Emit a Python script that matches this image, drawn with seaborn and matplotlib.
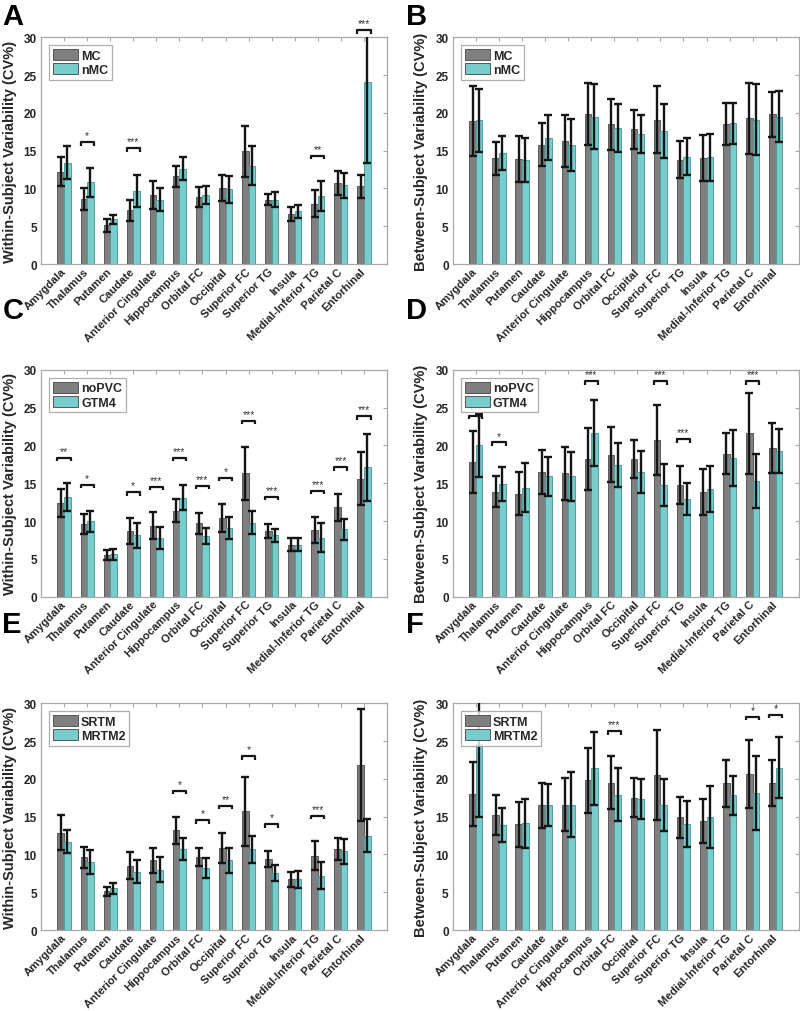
import numpy as np
import pandas as pd
import seaborn as sns
import matplotlib.pyplot as plt

sns.set_theme(style="white")
plt.rcParams['font.family'] = ['Liberation Sans', 'DejaVu Sans']

regions = ["Amygdala", "Thalamus", "Putamen", "Caudate", "Anterior Cingulate",
           "Hippocampus", "Orbital FC", "Occipital", "Superior FC", "Superior TG",
           "Insula", "Medial-Inferior TG", "Parietal C", "Entorhinal"]
nan = np.nan

# Panel A: within-subject, MC vs nMC
a_names = ["MC", "nMC"]
a_m1 = [12.2, 8.6, 5.1, 7.1, 9.1, 11.6, 8.9, 10.1, 14.9, 8.5, 6.6, 8.0, 10.7, 10.3]
a_e1 = [1.9, 1.4, 0.8, 1.4, 1.85, 1.4, 1.35, 1.7, 3.35, 0.7, 0.95, 1.75, 1.6, 1.5]
a_m2 = [13.4, 10.8, 5.9, 9.7, 8.5, 12.6, 9.1, 9.9, 13.0, 8.5, 7.0, 9.0, 10.4, 24.1]
a_e2 = [2.15, 1.9, 0.65, 2.1, 1.5, 1.5, 1.2, 1.8, 2.6, 1.0, 0.85, 2.0, 1.7, 10.8]
a_sig = ["", "*", "", "***", "", "", "", "", "", "", "", "**", "", "***"]
a_sig_y = [nan, 16.1, nan, 15.3, nan, nan, nan, nan, nan, nan, nan, 14.3, nan, 30.9]

# Panel B: between-subject, MC vs nMC
b_names = ["MC", "nMC"]
b_m1 = [18.9, 14.0, 13.9, 15.8, 16.3, 19.8, 18.5, 17.8, 19.1, 13.8, 14.0, 18.5, 19.3, 19.8]
b_e1 = [4.6, 2.2, 3.0, 2.85, 3.4, 4.1, 3.35, 2.6, 4.45, 2.45, 3.05, 2.75, 4.7, 3.0]
b_m2 = [19.0, 14.7, 13.8, 16.7, 15.7, 19.5, 18.0, 17.2, 17.6, 14.2, 14.1, 18.6, 19.1, 19.5]
b_e2 = [4.2, 2.2, 2.9, 2.95, 3.45, 4.3, 3.2, 2.5, 3.55, 2.45, 3.1, 2.7, 4.7, 3.35]
b_sig = [""] * 14
b_sig_y = [nan] * 14

# Panel C: within-subject, noPVC vs GTM4
c_names = ["noPVC", "GTM4"]
c_m1 = [12.4, 9.6, 5.5, 8.7, 9.4, 11.4, 9.7, 10.4, 16.3, 8.7, 6.9, 8.85, 11.8, 15.6]
c_e1 = [1.8, 1.3, 0.7, 1.7, 1.8, 1.55, 1.4, 1.9, 3.5, 0.95, 0.8, 1.75, 1.75, 3.5]
c_m2 = [13.2, 10.0, 5.6, 8.1, 7.8, 13.1, 8.0, 9.1, 9.8, 8.1, 6.9, 7.8, 8.9, 17.1]
c_e2 = [1.8, 1.4, 0.7, 1.6, 1.45, 1.65, 1.05, 1.5, 1.5, 0.8, 0.85, 1.9, 1.4, 4.4]
c_sig = ["**", "*", "", "*", "***", "***", "***", "*", "***", "***", "", "***", "***", "***"]
c_sig_y = [18.4, 14.8, nan, 13.8, 14.5, 18.4, 14.7, 15.7, 23.3, 13.2, nan, 14.0, 17.1, 23.85]

# Panel D: between-subject, noPVC vs GTM4
d_names = ["noPVC", "GTM4"]
d_m1 = [17.8, 13.9, 13.6, 16.5, 16.3, 18.2, 18.8, 18.2, 20.7, 14.8, 13.9, 18.9, 21.6, 19.7]
d_e1 = [4.1, 2.05, 2.85, 2.9, 3.5, 4.05, 3.65, 2.55, 4.65, 2.55, 3.05, 2.7, 5.35, 3.3]
d_m2 = [20.0, 14.9, 14.4, 15.9, 15.9, 21.7, 17.4, 16.5, 14.8, 12.9, 14.25, 18.4, 15.3, 19.3]
d_e2 = [4.2, 2.3, 3.25, 2.55, 3.2, 4.35, 2.9, 2.8, 2.8, 2.15, 3.05, 3.7, 3.6, 2.9]
d_sig = ["***", "*", "", "", "", "***", "", "", "***", "***", "", "", "***", ""]
d_sig_y = [23.9, 20.4, nan, nan, nan, 28.5, nan, nan, 28.5, 20.8, nan, nan, 28.5, nan]

# Panel E: within-subject, SRTM vs MRTM2
e_names = ["SRTM", "MRTM2"]
e_m1 = [12.9, 9.6, 5.1, 8.5, 9.2, 13.2, 9.7, 10.9, 15.7, 9.4, 6.7, 9.85, 10.7, 21.8]
e_e1 = [2.35, 1.35, 0.65, 1.8, 1.7, 1.8, 1.2, 2.0, 4.55, 1.1, 0.95, 1.9, 1.5, 7.4]
e_m2 = [11.7, 9.05, 5.5, 7.7, 8.0, 10.7, 8.2, 9.2, 10.7, 7.6, 6.7, 7.2, 10.4, 12.5]
e_e2 = [1.55, 1.6, 0.75, 1.5, 1.7, 1.5, 1.3, 1.7, 1.8, 1.05, 1.15, 1.75, 1.7, 2.15]
e_sig = ["", "", "", "", "", "*", "*", "**", "*", "*", "", "***", "", ""]
e_sig_y = [nan, nan, nan, nan, nan, 18.4, 14.5, 16.4, 23.0, 14.0, nan, 15.1, nan, nan]

# Panel F: between-subject, SRTM vs MRTM2
f_names = ["SRTM", "MRTM2"]
f_m1 = [18.0, 15.2, 14.0, 16.5, 16.6, 19.8, 19.5, 17.5, 20.5, 14.9, 14.4, 19.4, 20.6, 19.5]
f_e1 = [4.2, 2.65, 3.0, 3.0, 3.5, 4.3, 3.5, 2.6, 5.9, 2.7, 2.95, 3.15, 4.5, 3.05]
f_m2 = [24.6, 13.9, 14.1, 16.5, 16.6, 21.4, 17.9, 17.35, 16.5, 14.0, 14.9, 17.8, 18.1, 21.5]
f_e2 = [9.7, 2.3, 3.2, 2.8, 4.35, 4.8, 3.5, 2.65, 3.45, 3.05, 4.1, 2.6, 4.9, 4.05]
f_sig = ["", "", "", "", "", "", "***", "", "", "", "", "", "*", "*"]
f_sig_y = [nan, nan, nan, nan, nan, nan, 26.3, nan, nan, nan, nan, nan, 28.2, 28.5]

y_ticks = [0, 5, 10, 15, 20, 25, 30]
within_label = "Within-Subject Variability (CV%)"
between_label = "Between-Subject Variability (CV%)"

GRAY = "#7f7f7f"
TEAL = "#79cccc"
SPINE = "#a8a8a8"


def draw_panel(ax, names, m1, e1, m2, e2, sig, sig_y, ylabel):
    df = pd.DataFrame({
        "region": regions * 2,
        "method": [names[0]] * len(regions) + [names[1]] * len(regions),
        "value": list(m1) + list(m2),
    })
    sns.barplot(data=df, x="region", y="value", hue="method", hue_order=names,
                order=regions, palette=[GRAY, TEAL], width=0.57, errorbar=None,
                saturation=1, ax=ax, linewidth=0.7, edgecolor="#555555")
    for cont, ec in zip(ax.containers, ["#5a5a5a", "#4f9f9f"]):
        for p in cont:
            p.set_edgecolor(ec)
    for cont, m, e in zip(ax.containers, [m1, m2], [e1, e2]):
        xs = [p.get_x() + p.get_width() / 2 for p in cont]
        ax.errorbar(xs, m, yerr=e, fmt="none", ecolor="#151515",
                    elinewidth=1.7, capsize=2.6, capthick=1.7, zorder=5)
    c0, c1 = ax.containers[0], ax.containers[1]
    for i, (s, h) in enumerate(zip(sig, sig_y)):
        if not s:
            continue
        x0 = c0[i].get_x()
        x1 = c1[i].get_x() + c1[i].get_width()
        d = 0.45
        ax.plot([x0, x0, x1, x1], [h - d, h, h, h - d], color="#151515",
                lw=1.6, clip_on=False, zorder=6, solid_capstyle="butt")
        ax.text((x0 + x1) / 2, h + 0.25, s, ha="center", va="bottom",
                fontsize=7.5, color="#333333", clip_on=False)
    ax.set_xlim(-1, len(regions))
    ax.set_ylim(0, 30)
    ax.set_yticks(y_ticks)
    ax.set_yticklabels([str(t) for t in y_ticks], fontsize=8.5,
                       fontweight="bold", color="#262626")
    ax.set_xticks(range(len(regions)))
    ax.set_xticklabels(regions, rotation=45, ha="right", va="center",
                       rotation_mode="anchor", fontsize=8.1, fontweight="bold",
                       color="#262626")
    ax.set_xlabel("")
    ax.set_ylabel(ylabel, fontsize=10.5, fontweight="bold", color="#262626",
                  labelpad=5)
    ax.tick_params(axis="both", direction="in", top=True, right=True,
                   length=3, width=0.8, color=SPINE, pad=3)
    ax.tick_params(axis="x", pad=4)
    for sp in ax.spines.values():
        sp.set_color(SPINE)
        sp.set_linewidth(0.9)
    handles, _ = ax.get_legend_handles_labels()
    leg = ax.legend(handles, names, loc="upper left", frameon=True,
                    fancybox=False, edgecolor="#9a9a9a",
                    prop={"weight": "bold", "size": 9},
                    handlelength=2.0, handleheight=0.95, borderpad=0.3,
                    labelspacing=0.12, handletextpad=0.25,
                    borderaxespad=0.65)
    leg.get_frame().set_linewidth(0.9)


fig = plt.figure(figsize=(8, 10.12), dpi=100)
W = 0.4325
H = 0.2241
lefts = [0.05125, 0.566]
bottoms = [0.7381, 0.4094, 0.0800]
letter_x = [0.003, 0.508]
letter_top = [0.997, 0.7065, 0.396]

panels = [
    (a_names, a_m1, a_e1, a_m2, a_e2, a_sig, a_sig_y, within_label),
    (b_names, b_m1, b_e1, b_m2, b_e2, b_sig, b_sig_y, between_label),
    (c_names, c_m1, c_e1, c_m2, c_e2, c_sig, c_sig_y, within_label),
    (d_names, d_m1, d_e1, d_m2, d_e2, d_sig, d_sig_y, between_label),
    (e_names, e_m1, e_e1, e_m2, e_e2, e_sig, e_sig_y, within_label),
    (f_names, f_m1, f_e1, f_m2, f_e2, f_sig, f_sig_y, between_label),
]
letters = ["A", "B", "C", "D", "E", "F"]

for k, p in enumerate(panels):
    row, col = divmod(k, 2)
    ax = fig.add_axes([lefts[col], bottoms[row], W, H])
    draw_panel(ax, *p)
    fig.text(letter_x[col], letter_top[row], letters[k], fontsize=21,
             fontweight="bold", color="black", va="top", ha="left")

fig.savefig("out.png", dpi=100)
